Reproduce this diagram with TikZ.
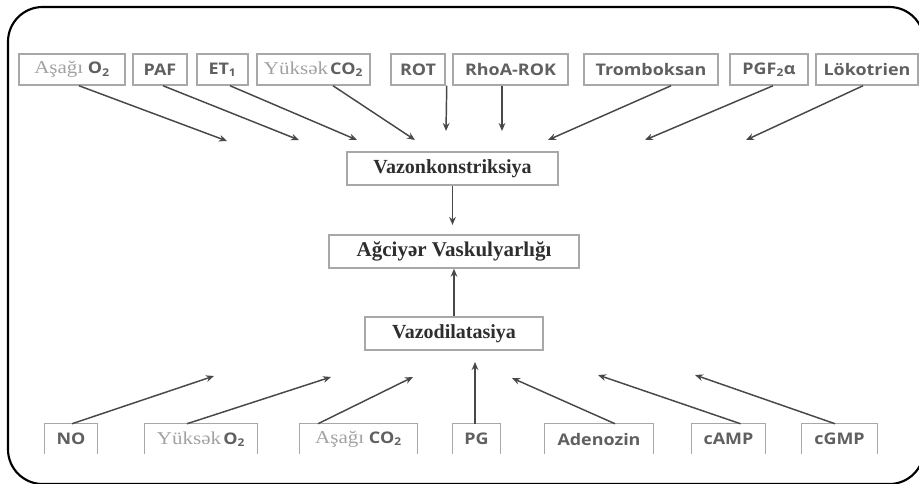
\documentclass[tikz,border=0pt]{standalone}
\usepackage{fontspec}
\setmainfont{Liberation Serif}
\newfontfamily\lblfont[FakeStretch=1.12]{Open Sans}
\newfontfamily\serifx[FakeStretch=1.16]{Liberation Serif}
\usetikzlibrary{arrows.meta,calc}
\definecolor{boxgray}{HTML}{A8A8A8}
\definecolor{lblgray}{HTML}{606060}
\definecolor{serifgray}{HTML}{A2A2A2}
\definecolor{arrowgray}{HTML}{484848}
\definecolor{ctrtext}{HTML}{2E2E2E}
\newcommand{\srf}[1]{{\serifx\mdseries\color{serifgray}\fontsize{13.6}{16}\selectfont #1}}
\newcommand{\sbs}[1]{\textsubscript{#1}}
\begin{document}
\begin{tikzpicture}[x=0.75pt,y=-0.75pt,
  lbl/.style={inner sep=0pt, font=\lblfont\bfseries\fontsize{12}{14}\selectfont, text=lblgray},
  topbox/.style={lbl, draw=boxgray, line width=1.1pt, minimum height=23.25pt},
  botbox/.style={lbl, minimum height=22.5pt},
  ctrbox/.style={draw=boxgray, line width=1.1pt, minimum height=24.75pt, inner sep=0pt,
    font=\bfseries\fontsize{15}{17}\selectfont, text=ctrtext},
  arr/.style={draw=arrowgray, line width=1.1pt, -{Stealth[length=6pt,width=5pt]}},
  open/.style={draw=boxgray, line width=1.1pt}
]
\clip (0,0) rectangle (919,483);
\fill[white] (0,0) rectangle (919,483);
\draw[line width=1.6pt, rounded corners=26pt] (8,7) rectangle (924,484);

% top boxes
\node[topbox, minimum width=79.5pt]  (t1) at (72,69.5)    {\srf{Aşağı} O\sbs{2}};
\node[topbox, minimum width=40.5pt]  (t2) at (160,69.5)   {PAF};
\node[topbox, minimum width=38.25pt] (t3) at (222.5,69.5) {ET\sbs{1}};
\node[topbox, minimum width=84.75pt] (t4) at (313.5,69.5) {\srf{Yüksək}\hspace{1.5pt}CO\sbs{2}};
\node[topbox, minimum width=40.5pt]  (t5) at (418,69.5)   {ROT};
\node[topbox, minimum width=86.25pt] (t6) at (510.5,69.5) {RhoA-ROK};
\node[topbox, minimum width=100.5pt] (t7) at (651,69.5)   {Tromboksan};
\node[topbox, minimum width=58.5pt]  (t8) at (769,69.5)   {PGF\sbs{2}α};
\node[topbox, minimum width=76.5pt]  (t9) at (867,69.5)   {Lökotrien};

% central boxes
\node[ctrbox, minimum width=158.25pt] (vk) at (452.5,168.5) {Vazonkonstriksiya};
\node[ctrbox, minimum width=187.5pt, font=\bfseries\fontsize{15.75}{18}\selectfont] (ag) at (454,251.5) {Ağciyər Vaskulyarlığı};
\node[ctrbox, minimum width=133.5pt] (vd) at (454,333.5) {Vazodilatasiya};

% bottom boxes (open at the bottom)
\node[botbox, minimum width=39pt]    (b1) at (71,439)    {NO};
\node[botbox, minimum width=84pt]    (b2) at (201,439)   {\srf{Yüksək}\hspace{1.5pt}O\sbs{2}};
\node[botbox, minimum width=87.75pt] (b3) at (358.5,439) {\srf{Aşağı} CO\sbs{2}};
\node[botbox, minimum width=35.25pt] (b4) at (476.5,439) {PG};
\node[botbox, minimum width=81pt]    (b5) at (599,439)   {Adenozin};
\node[botbox, minimum width=54.75pt] (b6) at (728.5,439) {cAMP};
\node[botbox, minimum width=56.25pt] (b7) at (839.5,439) {cGMP};
\foreach \b in {b1,b2,b3,b4,b5,b6,b7}
  \draw[open] (\b.south west) -- (\b.north west) -- (\b.north east) -- (\b.south east);

% free arrow ends
\coordinate (e1) at (227,141);
\coordinate (e2) at (299,140);
\coordinate (e3) at (357,140);
\coordinate (e4) at (415,140);
\coordinate (e5) at (446,131);
\coordinate (e6) at (502,131);
\coordinate (e7) at (548,140);
\coordinate (e8) at (645,140);
\coordinate (e9) at (746,140);

\coordinate (f1) at (214,376);
\coordinate (f2) at (331,377);
\coordinate (f3) at (413,377);
\coordinate (f4) at (475,362);
\coordinate (f5) at (512,378);
\coordinate (f6) at (598,375);
\coordinate (f7) at (695,375);

% top arrows
\draw[arr] ($(t1.south)+(7,0)$) -- (e1);
\draw[arr] ($(t2.south)+(3,0)$) -- (e2);
\draw[arr] ($(t3.south)+(7.5,0)$) -- (e3);
\draw[arr] ($(t4.south)+(19.5,0)$) -- (e4);
\draw[arr] ($(t5.south east)+(1,0)$) -- (e5);
\draw[arr] ($(t6.south)+(-8.5,0)$) -- (e6);
\draw[arr] ($(t7.south)+(20,0)$) -- (e7);
\draw[arr] ($(t8.south)+(4,0)$) -- (e8);
\draw[arr] ($(t9.south)+(-4,0)$) -- (e9);

% central arrows
\draw[arr, shorten >=7pt] (vk.south) -- (vk.south |- ag.north);
\draw[arr] (vd.north) -- (ag.south);

% bottom arrows
\draw[arr] ($(b1.north)+(1,0)$) -- (f1);
\draw[arr] ($(b2.north)+(-14,0)$) -- (f2);
\draw[arr] ($(b3.north)+(-40.5,0)$) -- (f3);
\draw[arr] ($(b4.north)+(-1.5,0)$) -- (f4);
\draw[arr] ($(b5.north)+(16,0)$) -- (f5);
\draw[arr] ($(b6.north)+(12,0)$) -- (f6);
\draw[arr] ($(b7.north)+(-4.5,0)$) -- (f7);
\end{tikzpicture}
\end{document}
